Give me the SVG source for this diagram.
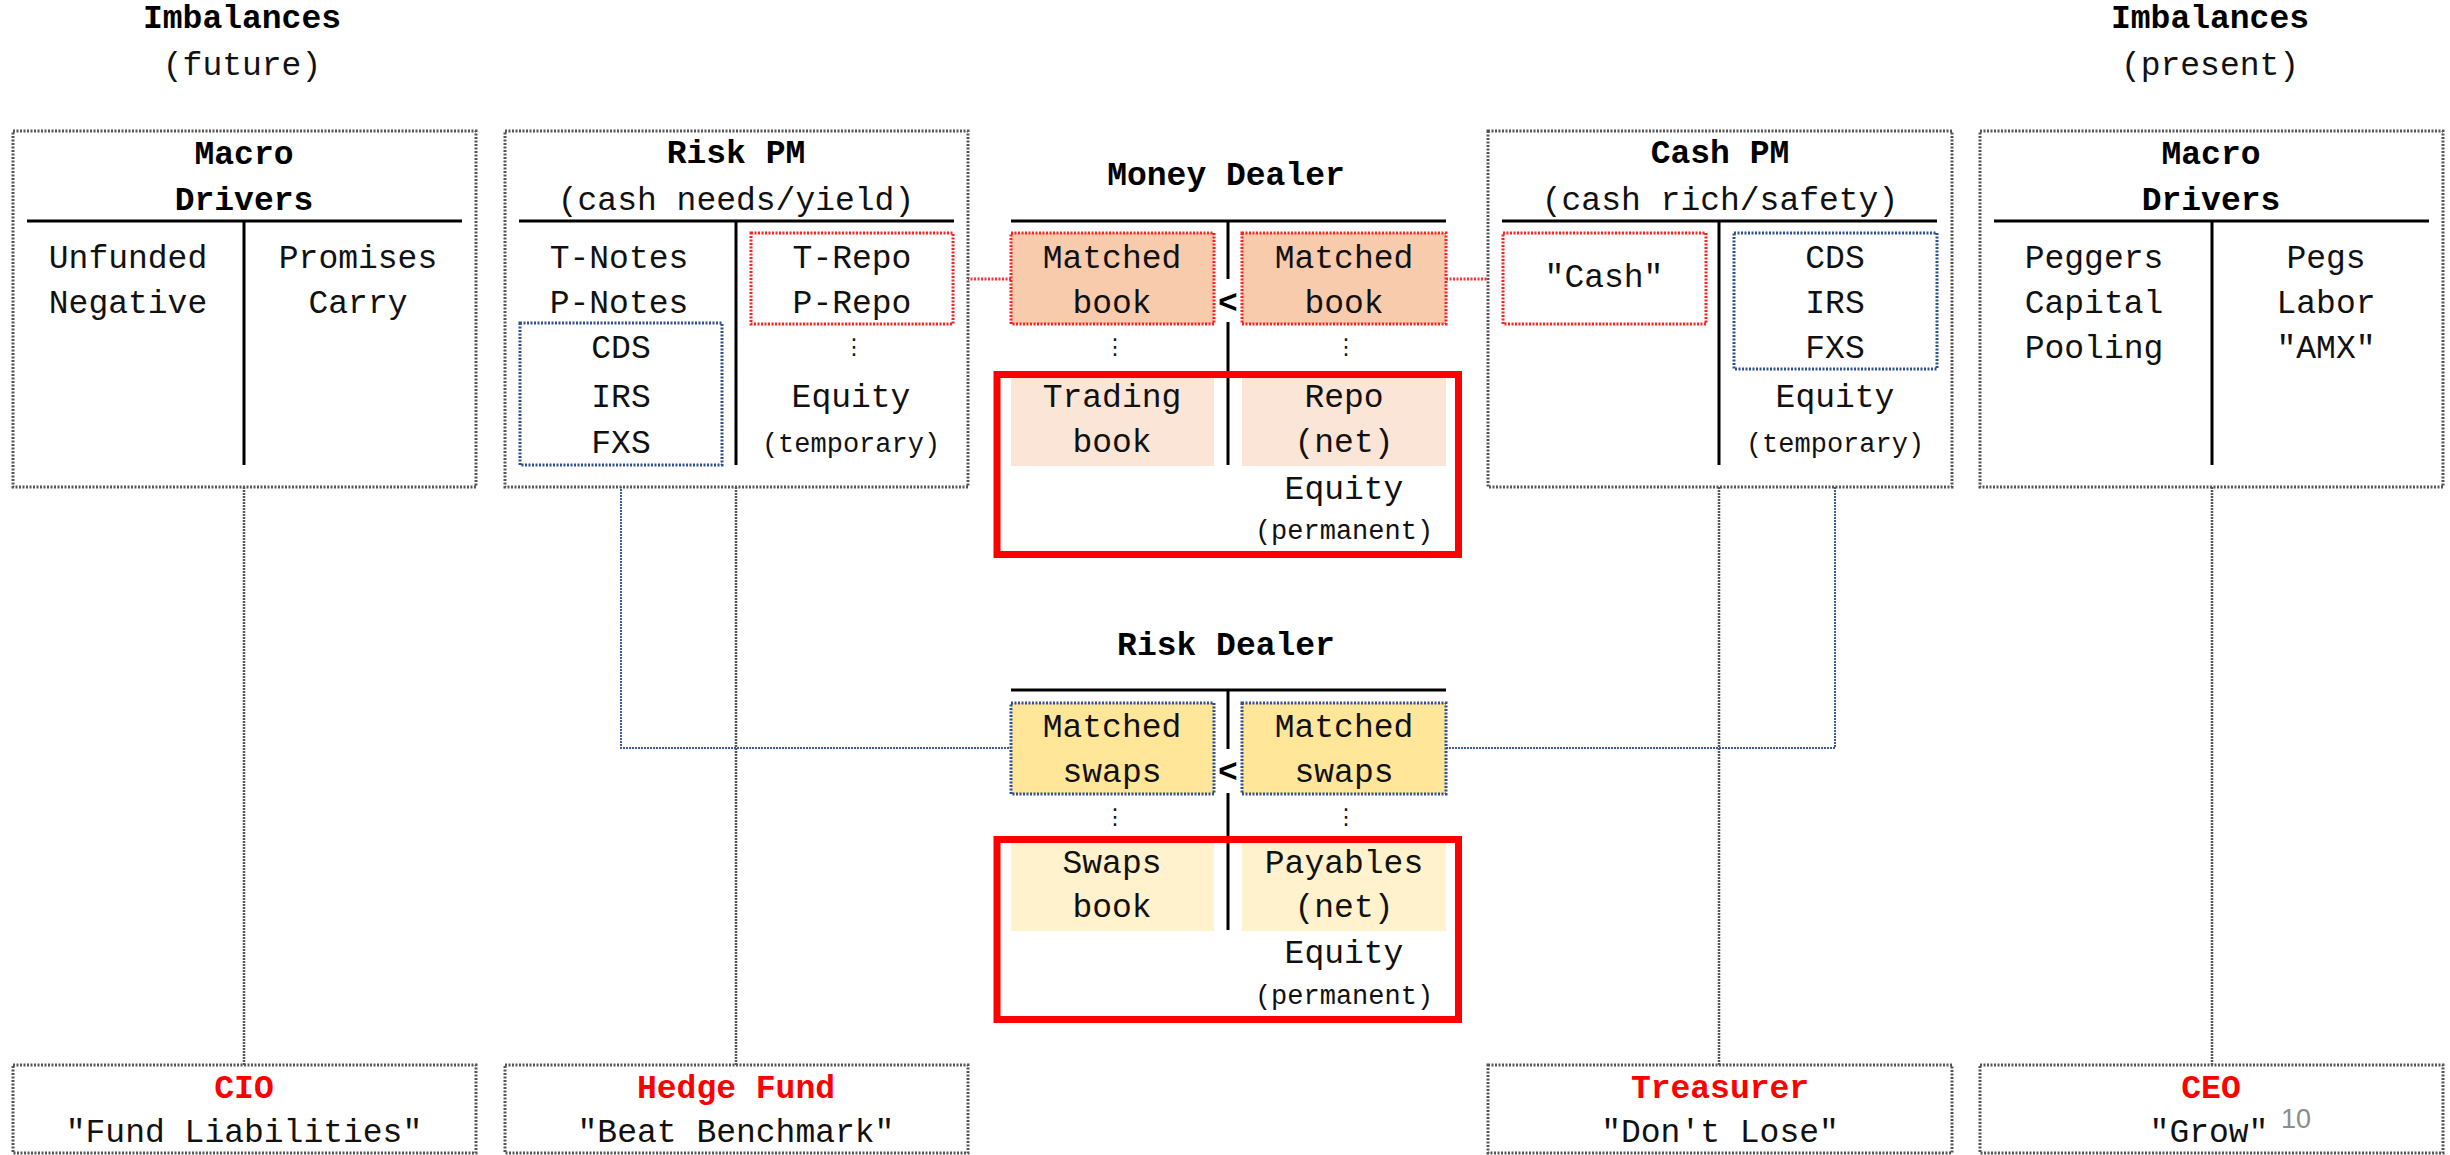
<svg xmlns="http://www.w3.org/2000/svg" width="2450" height="1155" viewBox="0 0 2450 1155">
<style>
text{font-family:"Liberation Mono","Courier New",monospace;font-size:33px;fill:#111;text-anchor:middle}
.b{font-weight:bold;fill:#000}
.s{font-size:27px}
.red{fill:#ff0000;font-weight:bold}
.dots{font-family:"DejaVu Sans",sans-serif;font-size:22px}
.pg{font-family:"Liberation Sans",Arial,sans-serif;font-size:27px;fill:#8c8c8c;text-anchor:start}
.box{fill:#fff;stroke:#555;stroke-width:3;stroke-dasharray:2 1.5}
.tl{stroke:#000;stroke-width:3;fill:none}
.rbox{stroke:#ff2020;stroke-width:3;stroke-dasharray:2 1.5}
.bbox{stroke:#2f4f8f;stroke-width:3;stroke-dasharray:2 1.5}
.frame{fill:none;stroke:#ff0000;stroke-width:7}
.cg{stroke:#555;stroke-width:2.5;stroke-dasharray:2 1;fill:none}
.cr{stroke:#ff3030;stroke-width:3;stroke-dasharray:2 1.5;fill:none}
.cb{stroke:#3a5a9a;stroke-width:2;stroke-dasharray:2 1;fill:none}
</style>
<g id="connectors">
<path class="cg" d="M244 487V1065M736 487V1065M1719 487V1065M2212 487V1065"/>
<path class="cr" d="M953 279H1011M1446 279H1503"/>
<path class="cb" d="M621 465V748H1011M1446 748H1835V463"/>
</g>
<g id="heading-future">
<text class="b" x="242" y="28">Imbalances</text>
<text x="242" y="75">(future)</text>
</g>
<g id="heading-present">
<text class="b" x="2210" y="28">Imbalances</text>
<text x="2210" y="75">(present)</text>
</g>
<g id="macro-left">
<rect class="box" x="13" y="131" width="463" height="356"/>
<text class="b" x="244" y="164">Macro</text>
<text class="b" x="244" y="210">Drivers</text>
<path class="tl" d="M27 221H462M244 221V465"/>
<text x="128" y="268">Unfunded</text>
<text x="128" y="313">Negative</text>
<text x="358" y="268">Promises</text>
<text x="358" y="313">Carry</text>
</g>
<g id="risk-pm">
<rect class="box" x="505" y="131" width="463" height="356"/>
<text class="b" x="736" y="163">Risk PM</text>
<text x="736" y="210">(cash needs/yield)</text>
<path class="tl" d="M519 221H954M736 221V465"/>
<text x="619" y="268">T-Notes</text>
<text x="619" y="313">P-Notes</text>
<rect class="bbox" x="520" y="323" width="202" height="142" fill="none"/>
<text x="621" y="358">CDS</text>
<text x="621" y="407">IRS</text>
<text x="621" y="453">FXS</text>
<rect class="rbox" x="751" y="233" width="202" height="91" fill="none"/>
<text x="852" y="268">T-Repo</text>
<text x="852" y="313">P-Repo</text>
<text class="dots" x="854" y="354">⋮</text>
<text x="851" y="407">Equity</text>
<text class="s" x="851" y="452">(temporary)</text>
</g>
<g id="money-dealer">
<text class="b" x="1226" y="185">Money Dealer</text>
<path class="tl" d="M1011 221H1446M1228 221V279M1228 322V465"/>
<text class="b" x="1228" y="313">&lt;</text>
<rect class="rbox" x="1011" y="233" width="203" height="91" fill="#f8cbad"/>
<text x="1112" y="268">Matched</text>
<text x="1112" y="313">book</text>
<rect class="rbox" x="1242" y="233" width="204" height="91" fill="#f8cbad"/>
<text x="1344" y="268">Matched</text>
<text x="1344" y="313">book</text>
<text class="dots" x="1115" y="354">⋮</text>
<text class="dots" x="1346" y="354">⋮</text>
<rect x="1011" y="378" width="203" height="88" fill="#fbe5d6"/>
<rect x="1242" y="378" width="204" height="88" fill="#fbe5d6"/>
<text x="1112" y="407">Trading</text>
<text x="1112" y="452">book</text>
<text x="1344" y="407">Repo</text>
<text x="1344" y="452">(net)</text>
<text x="1344" y="499">Equity</text>
<text class="s" x="1344" y="539">(permanent)</text>
<rect class="frame" x="997" y="374.5" width="461.5" height="180"/>
</g>
<g id="cash-pm">
<rect class="box" x="1488" y="131" width="464" height="356"/>
<text class="b" x="1720" y="163">Cash PM</text>
<text x="1720" y="210">(cash rich/safety)</text>
<path class="tl" d="M1502 221H1937M1719 221V465"/>
<rect class="rbox" x="1503" y="233" width="203" height="91" fill="none"/>
<text x="1604" y="287">"Cash"</text>
<rect class="bbox" x="1734" y="233" width="203" height="136" fill="none"/>
<text x="1835" y="268">CDS</text>
<text x="1835" y="313">IRS</text>
<text x="1835" y="358">FXS</text>
<text x="1835" y="407">Equity</text>
<text class="s" x="1835" y="452">(temporary)</text>
</g>
<g id="macro-right">
<rect class="box" x="1980" y="131" width="463" height="356"/>
<text class="b" x="2211" y="164">Macro</text>
<text class="b" x="2211" y="210">Drivers</text>
<path class="tl" d="M1994 221H2429M2212 221V465"/>
<text x="2094" y="268">Peggers</text>
<text x="2094" y="313">Capital</text>
<text x="2094" y="358">Pooling</text>
<text x="2326" y="268">Pegs</text>
<text x="2326" y="313">Labor</text>
<text x="2326" y="358">"AMX"</text>
</g>
<g id="risk-dealer">
<text class="b" x="1226" y="655">Risk Dealer</text>
<path class="tl" d="M1011 690H1446M1228 690V749M1228 793V930"/>
<text class="b" x="1228" y="782">&lt;</text>
<rect class="bbox" x="1011" y="703" width="203" height="91" fill="#ffe699"/>
<text x="1112" y="737">Matched</text>
<text x="1112" y="782">swaps</text>
<rect class="bbox" x="1242" y="703" width="204" height="91" fill="#ffe699"/>
<text x="1344" y="737">Matched</text>
<text x="1344" y="782">swaps</text>
<text class="dots" x="1115" y="824">⋮</text>
<text class="dots" x="1346" y="824">⋮</text>
<rect x="1011" y="843" width="203" height="88" fill="#fff2cc"/>
<rect x="1242" y="843" width="204" height="88" fill="#fff2cc"/>
<text x="1112" y="873">Swaps</text>
<text x="1112" y="917">book</text>
<text x="1344" y="873">Payables</text>
<text x="1344" y="917">(net)</text>
<text x="1344" y="963">Equity</text>
<text class="s" x="1344" y="1004">(permanent)</text>
<rect class="frame" x="997" y="839.5" width="461.5" height="180"/>
</g>
<g id="cio">
<rect class="box" x="13" y="1065" width="463" height="88"/>
<text class="red" x="244" y="1098">CIO</text>
<text x="244" y="1142">"Fund Liabilities"</text>
</g>
<g id="hedge-fund">
<rect class="box" x="505" y="1065" width="463" height="88"/>
<text class="red" x="736" y="1098">Hedge Fund</text>
<text x="736" y="1142">"Beat Benchmark"</text>
</g>
<g id="treasurer">
<rect class="box" x="1488" y="1065" width="464" height="88"/>
<text class="red" x="1720" y="1098">Treasurer</text>
<text x="1720" y="1142">"Don't Lose"</text>
</g>
<g id="ceo">
<rect class="box" x="1980" y="1065" width="463" height="88"/>
<text class="red" x="2211" y="1098">CEO</text>
<text x="2209" y="1142">"Grow"</text>
</g>
<text class="pg" x="2281" y="1128">10</text>
</svg>
